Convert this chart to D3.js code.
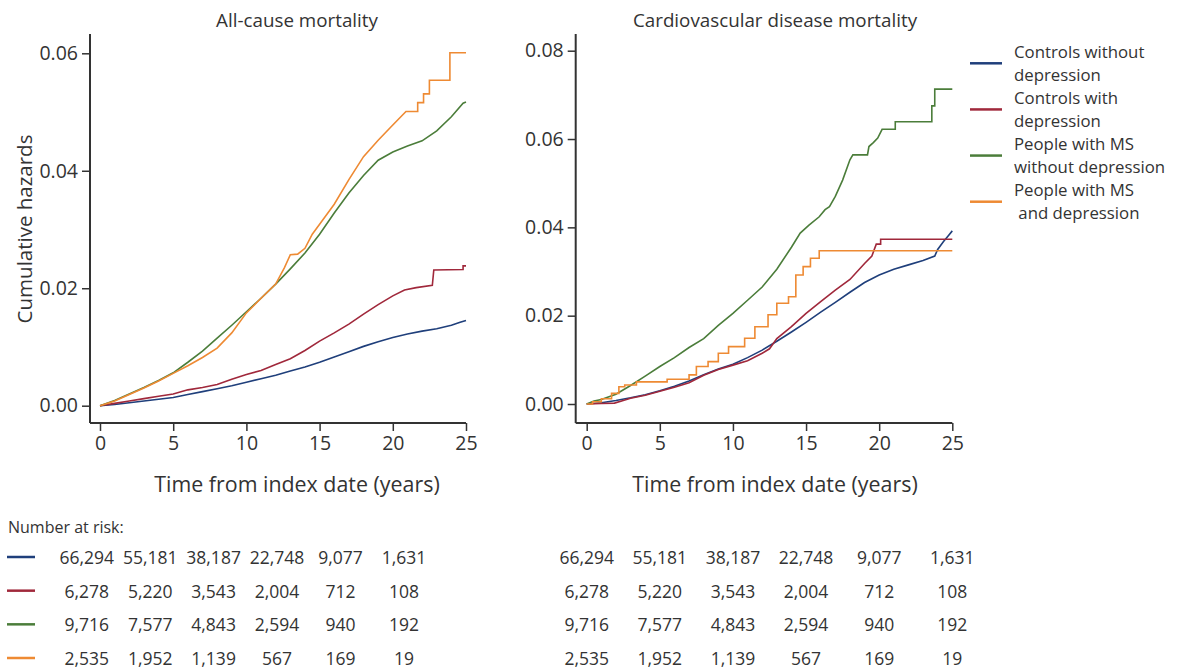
<!DOCTYPE html>
<html>
<head>
<meta charset="utf-8">
<script src="https://cdn.jsdelivr.net/npm/d3@7"></script>
<style>
body{margin:0;background:#fff;}
svg text{font-family:"Open Sans",sans-serif;fill:#333;}
</style>
</head>
<body>
<svg width="1192" height="670"></svg>
<script>
// group names + colours
var groups=["Controls without depression","Controls with depression","People with MS without depression","People with MS and depression"];
var legendText=[["Controls without","depression"],["Controls with","depression"],["People with MS","without depression"],["People with MS"," and depression"]];
var colors=["#1f3f7b","#a0283b","#4b7d3a","#ee8a33"];

// all-cause mortality, [years, cumulative hazard]
var allBlue=[[0,0],[1,0.0002],[2,0.0005],[3,0.0008],[4,0.0011],[5,0.0014],[6,0.0019],[7,0.0024],[8,0.0029],[9,0.0034],[10,0.004],[11,0.0046],[12,0.0052],[13,0.0059],[14,0.0066],[15,0.0074],[16,0.0083],[17,0.0092],[18,0.0101],[19,0.0109],[20,0.0116],[21,0.0122],[22,0.0127],[23,0.0131],[24,0.0137],[24.6,0.0142],[25,0.0145]];
var allRed=[[0,0],[1,0.0004],[2,0.0008],[3,0.0012],[4,0.0016],[5,0.002],[6,0.0027],[7,0.0031],[8,0.0036],[9,0.0045],[10,0.0053],[11,0.006],[12,0.007],[13,0.008],[14,0.0094],[15,0.011],[16,0.0124],[17,0.0139],[18,0.0156],[19,0.0172],[20,0.0187],[20.8,0.0197],[21.6,0.0201],[22.7,0.0205],[22.8,0.0231],[24.8,0.0232],[24.8,0.0238],[25,0.0238]];
var allGreen=[[0,0],[1,0.0009],[2,0.002],[3,0.0031],[4,0.0043],[5,0.0056],[6,0.0074],[7,0.0093],[8,0.0115],[9,0.0137],[10,0.016],[11,0.0183],[12,0.0207],[13,0.0233],[14,0.026],[15,0.0292],[16,0.0328],[17,0.0362],[18,0.0392],[19,0.0418],[20,0.0432],[21,0.0442],[22,0.0451],[23,0.0468],[24,0.0492],[24.8,0.0515],[25,0.0517]];
var allOrange=[[0,0],[1,0.0008],[2,0.0019],[3,0.003],[4,0.0042],[5,0.0055],[6,0.0068],[7,0.0082],[8,0.0098],[9,0.0124],[10,0.0158],[11,0.0183],[12,0.0207],[12.6,0.0235],[13,0.0257],[13.5,0.0258],[14,0.0268],[14.5,0.0292],[15,0.0309],[16,0.0343],[17,0.0385],[18,0.0424],[19,0.0452],[20,0.0478],[20.9,0.0501],[21.7,0.0501],[21.7,0.0516],[22.1,0.0516],[22.1,0.0531],[22.5,0.0531],[22.5,0.0554],[23.9,0.0554],[23.9,0.0601],[25,0.0601]];

// cardiovascular disease mortality
var cvdBlue=[[0,0],[1,0.0003],[2,0.0008],[3,0.0014],[4,0.0021],[5,0.003],[6,0.004],[7,0.0052],[8,0.0066],[9,0.0079],[10,0.009],[11,0.0105],[12,0.0122],[13,0.0142],[14,0.0163],[15,0.0185],[16,0.0208],[17,0.023],[18,0.0253],[19,0.0275],[20,0.0292],[21,0.0305],[22,0.0315],[23,0.0325],[23.8,0.0335],[24,0.035],[24.4,0.0368],[24.7,0.038],[25,0.0392]];
var cvdRed=[[0,0],[1,0.0001],[1.9,0.0002],[2.5,0.0008],[3,0.0013],[4,0.002],[5,0.0029],[6,0.0038],[7,0.0048],[8,0.0065],[9,0.0078],[10,0.0088],[11,0.0098],[12,0.0115],[12.5,0.0125],[13,0.0148],[14,0.0175],[15,0.0205],[16,0.0232],[17,0.0258],[18,0.0282],[19,0.0318],[19.5,0.0335],[19.8,0.0362],[20.1,0.0362],[20.1,0.0373],[25,0.0373]];
var cvdGreen=[[0,0],[0.5,0.0007],[1,0.001],[2,0.0022],[3,0.0042],[4,0.0063],[5,0.0085],[6,0.0105],[7,0.0128],[8,0.0148],[9,0.0178],[10,0.0205],[11,0.0235],[12,0.0265],[13,0.0305],[14,0.0355],[14.6,0.0387],[15.2,0.0405],[15.9,0.0424],[16.3,0.044],[16.6,0.0447],[17,0.047],[17.5,0.0507],[18,0.0553],[18.2,0.0564],[19.2,0.0564],[19.3,0.0583],[19.6,0.0592],[19.9,0.0602],[20.2,0.0622],[21.1,0.0622],[21.1,0.0639],[23.6,0.0639],[23.6,0.0675],[23.8,0.0675],[23.8,0.0713],[25,0.0713]];
var cvdOrange=[[0,0],[0.4,0.0005],[1,0.0012],[1.7,0.0024],[2.2,0.0039],[2.6,0.0043],[3.4,0.005],[5.5,0.0056],[7,0.0066],[7.5,0.0085],[8.3,0.0096],[9,0.0115],[9.7,0.013],[10.8,0.0149],[11.5,0.0175],[12.4,0.0202],[13,0.0228],[13.8,0.0243],[14.3,0.0292],[14.8,0.0311],[15.3,0.033],[15.9,0.0347],[25,0.0347]];

// axis ticks
var xTicks=[0,5,10,15,20,25];
var allYTicks=[0,0.02,0.04,0.06];
var cvdYTicks=[0,0.02,0.04,0.06,0.08];

// number at risk
var riskTimes=[0,5,10,15,20,25];
var riskBlue=["66,294","55,181","38,187","22,748","9,077","1,631"];
var riskRed=["6,278","5,220","3,543","2,004","712","108"];
var riskGreen=["9,716","7,577","4,843","2,594","940","192"];
var riskOrange=["2,535","1,952","1,139","567","169","19"];

window.onload=function()
{
	var svg=d3.select("svg");
	var axisY=423;
	var axisTop=34;

	var xL=d3.scaleLinear().domain([0,25]).range([100,466]);
	var yL=d3.scaleLinear().domain([0,0.06]).range([405.7,53.3]);
	var xR=d3.scaleLinear().domain([0,25]).range([586.7,952.3]);
	var yR=d3.scaleLinear().domain([0,0.08]).range([404,50.7]);

	var lin=d3.curveLinear, step=d3.curveStepAfter;
	drawPanel(xL,yL,allYTicks,90,297,"All-cause mortality",[allBlue,allRed,allGreen,allOrange],[lin,lin,lin,lin]);
	drawPanel(xR,yR,cvdYTicks,575.7,775,"Cardiovascular disease mortality",[cvdBlue,cvdRed,cvdGreen,cvdOrange],[lin,lin,lin,step]);

	svg.append("text")
		.attr("transform","translate(24,229) rotate(-90)")
		.attr("text-anchor","middle")
		.attr("dominant-baseline","central")
		.style("font-size","20.5px")
		.text("Cumulative hazards");

	function drawPanel(xs,ys,yTicks,axisX,centerX,title,series,curves)
	{
		svg.append("g").selectAll("path")
			.data(series)
			.enter()
			.append("path")
			.attr("d",(d,i)=>d3.line().x(p=>xs(p[0])).y(p=>ys(p[1])).curve(curves[i])(d))
			.attr("fill","none")
			.attr("stroke",(d,i)=>colors[i])
			.attr("stroke-width",1.6)
			.attr("stroke-linejoin","miter");

		var ya=svg.append("g")
			.attr("transform","translate("+axisX+",0)")
			.call(d3.axisLeft(ys).tickValues(yTicks).tickFormat(d3.format(".2f")).tickSize(8).tickPadding(4));
		ya.select(".domain").remove();
		ya.selectAll("line").attr("stroke","#333").attr("stroke-width",1.5);
		ya.selectAll("text").style("font-size","19.5px").attr("fill","#333");
		ya.append("line").attr("x1",0).attr("x2",0).attr("y1",axisTop).attr("y2",axisY)
			.attr("stroke","#333").attr("stroke-width",2);

		var xa=svg.append("g")
			.attr("transform","translate(0,"+axisY+")")
			.call(d3.axisBottom(xs).tickValues(xTicks).tickSize(8).tickPadding(5));
		xa.select(".domain").remove();
		xa.selectAll("line").attr("stroke","#333").attr("stroke-width",1.5);
		xa.selectAll("text").style("font-size","19.5px").attr("fill","#333");
		xa.append("line").attr("x1",axisX).attr("x2",xs(25)).attr("y1",0).attr("y2",0)
			.attr("stroke","#333").attr("stroke-width",2);

		svg.append("text")
			.attr("x",centerX)
			.attr("y",27)
			.attr("text-anchor","middle")
			.style("font-size","18.8px")
			.text(title);

		svg.append("text")
			.attr("x",centerX)
			.attr("y",492)
			.attr("text-anchor","middle")
			.style("font-size","21.4px")
			.text("Time from index date (years)");
	}

	// legend
	var legendY=d3.scalePoint().domain(groups).range([63.3,201.7]);
	var lg=svg.append("g").selectAll("g")
		.data(groups)
		.enter()
		.append("g")
		.attr("transform",d=>"translate(0,"+legendY(d)+")");
	lg.append("line")
		.attr("x1",970).attr("x2",1002)
		.attr("stroke",(d,i)=>colors[i])
		.attr("stroke-width",2.5);
	lg.each(function(d,i){
		var g=d3.select(this);
		g.append("text")
			.attr("x",1014)
			.attr("y",-12)
			.attr("dominant-baseline","central")
			.style("font-size","16.8px")
			.style("white-space","pre")
			.text(legendText[i][0]);
		g.append("text")
			.attr("x",1014)
			.attr("y",11)
			.attr("dominant-baseline","central")
			.style("font-size","16.8px")
			.style("white-space","pre")
			.text(legendText[i][1]);
	});

	// number at risk table
	svg.append("text")
		.attr("x",8)
		.attr("y",533)
		.style("font-size","16px")
		.text("Number at risk:");

	var rows=[riskBlue,riskRed,riskGreen,riskOrange];
	var rowY=d3.scalePoint().domain(groups).range([557,658]);
	var tableL=d3.scaleLinear().domain([0,25]).range([86.7,404]);

	rows.forEach(function(r,i){
		var yy=rowY(groups[i]);
		svg.append("line")
			.attr("x1",7).attr("x2",35)
			.attr("y1",yy).attr("y2",yy)
			.attr("stroke",colors[i])
			.attr("stroke-width",2.5);
		svg.append("g").selectAll("text")
			.data(r)
			.enter()
			.append("text")
			.attr("x",(d,j)=>tableL(riskTimes[j]))
			.attr("y",yy)
			.attr("text-anchor","middle")
			.attr("dominant-baseline","central")
			.style("font-size","17.5px")
			.text(d=>d);
		svg.append("g").selectAll("text")
			.data(r)
			.enter()
			.append("text")
			.attr("x",(d,j)=>xR(riskTimes[j]))
			.attr("y",yy)
			.attr("text-anchor","middle")
			.attr("dominant-baseline","central")
			.style("font-size","17.5px")
			.text(d=>d);
	});
}
</script>
</body>
</html>
